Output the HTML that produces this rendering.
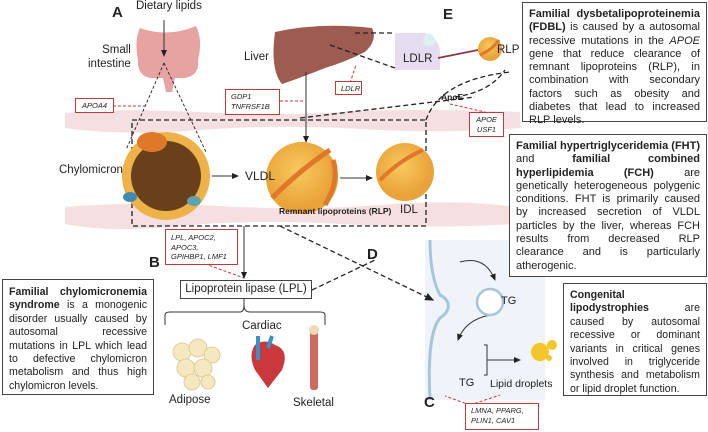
<!DOCTYPE html>
<html><head><meta charset="utf-8"><style>
body{margin:0;background:#fff;}
.t{position:absolute;font-family:"Liberation Sans",sans-serif;color:#222;}
.box{position:absolute;border:1.5px solid #444;background:#fff;font-family:"Liberation Sans",sans-serif;font-size:10.6px;line-height:13.4px;text-align:justify;text-align-last:left;padding:3px 5px;box-sizing:border-box;color:#222;}
.g{position:absolute;border:1.3px solid #c0393b;background:#fff;font-family:"Liberation Sans",sans-serif;font-style:italic;font-size:7.5px;line-height:9.5px;padding:2px 5px;box-sizing:border-box;color:#222;}
</style></head><body>
<div style="position:relative;width:708px;height:432px;overflow:hidden;">
<svg width="708" height="432" style="position:absolute;left:0;top:0">
<defs>
<marker id="ah" markerWidth="8" markerHeight="8" refX="6" refY="4" orient="auto"><path d="M0,1 L7,4 L0,7z" fill="#222"/></marker>
<radialGradient id="yb" cx="45%" cy="40%"><stop offset="0" stop-color="#f7c95e"/><stop offset="1" stop-color="#e9a33a"/></radialGradient>
</defs>
<rect x="425" y="240" width="120" height="160" fill="#eef4f9"/>
<path d="M430,240 C430,260 432,280 440,295 C450,300 452,310 440,318 C430,330 428,360 430,400" stroke="#a9c5dc" stroke-width="3" fill="none"/>
<path d="M65,113 Q120,108 200,112 T340,112 T520,112 L520,128 Q440,134 360,129 T200,130 T65,128Z" fill="#f6dfe0"/>
<path d="M65,207 Q140,201 220,206 T380,205 T515,207 L515,224 Q430,229 340,224 T180,226 T65,224Z" fill="#f6dfe0"/>
<path d="M140,28 Q168,38 196,26 Q203,40 198,60 Q200,75 185,78 L175,78 L172,92 L166,92 L163,78 L150,78 Q137,75 138,60 Q134,40 140,28Z" fill="#e7a3a2"/>
<path d="M275,32 Q320,22 372,28 Q378,40 365,52 Q345,62 325,68 Q300,78 282,84 Q270,70 275,32Z" fill="#9d5b52"/>
<path d="M395,33 L425,33 Q440,40 440,52 L440,70 L395,70Z" fill="#e6dcef"/>
<circle cx="429" cy="40" r="6" fill="#dceff3"/>
<line x1="438" y1="58" x2="478" y2="50" stroke="#8a3b45" stroke-width="1.8"/>
<circle cx="490" cy="49" r="12" fill="url(#yb)"/>
<path d="M480,55 Q492,50 499,40" stroke="#e0782a" stroke-width="3" fill="none"/>
<g stroke="#222" stroke-width="1.3" stroke-dasharray="5,3" fill="none">
<rect x="132" y="120" width="294" height="106"/>
<path d="M426,120 Q440,80 510,72"/>
<path d="M355,33 L395,33"/>
<path d="M330,45 L395,68"/>
<path d="M300,118 L475,97"/>
<path d="M455,97 Q490,92 505,70"/>
<path d="M280,226 L433,300" marker-end="url(#ah)"/>
<path d="M312,290 L375,260"/>
</g>
<g stroke="#222" stroke-width="0.9" stroke-dasharray="3,2" fill="none">
<path d="M164,63 L126,150"/><path d="M164,63 L206,152"/>
</g>
<g stroke="#c0393b" stroke-width="1" stroke-dasharray="3,2" fill="none">
<path d="M113,106 L145,106"/><path d="M280,101 L305,101"/><path d="M350,83 L356,65"/>
<path d="M450,104 L485,112"/><path d="M200,262 L244,278"/><path d="M470,405 L500,395"/><path d="M470,405 L445,396"/>
</g>
<g stroke="#333" stroke-width="1" fill="none">
<line x1="164" y1="20" x2="164" y2="56" marker-end="url(#ah)"/>
<line x1="306" y1="72" x2="306" y2="142" marker-end="url(#ah)"/>
<line x1="212" y1="176" x2="238" y2="176" marker-end="url(#ah)"/>
<line x1="340" y1="178" x2="372" y2="178" marker-end="url(#ah)"/>
<line x1="244" y1="226" x2="244" y2="278" marker-end="url(#ah)"/>
<line x1="244" y1="298" x2="244" y2="308"/>
<path d="M165,325 L165,315 Q165,312 170,312 L240,312 Q244,312 244,305 Q244,312 250,312 L320,312 Q325,312 325,315 L325,325"/>
<path d="M460,262 Q485,255 495,280" marker-end="url(#ah)"/>
<path d="M490,315 Q465,320 458,340" marker-end="url(#ah)"/>
<path d="M484,345 L487,345 L487,375 L484,375 M487,360 L520,360" marker-end="url(#ah)"/>
</g>
<circle cx="166" cy="176" r="44" fill="#eeb24a"/>
<circle cx="166" cy="176" r="35" fill="#6a3f1c"/>
<ellipse cx="152" cy="142" rx="15" ry="10" fill="#e0782a"/>
<ellipse cx="130" cy="197" rx="7" ry="5" fill="#3f8bb0"/>
<ellipse cx="194" cy="201" rx="7" ry="5" fill="#5da3ae"/>
<circle cx="302" cy="178" r="36" fill="url(#yb)"/>
<path d="M272,198 Q300,170 330,150" stroke="#e0782a" stroke-width="5" fill="none"/>
<path d="M333,160 Q340,180 325,205" stroke="#e0782a" stroke-width="5" fill="none"/>
<circle cx="405" cy="172" r="29" fill="url(#yb)"/>
<path d="M380,180 Q400,160 423,150" stroke="#e0782a" stroke-width="4" fill="none"/>
<circle cx="490" cy="302" r="13" fill="#fff" stroke="#a9c5dc" stroke-width="2.5"/>
<circle cx="540" cy="352" r="9" fill="#f3c62c"/><circle cx="552" cy="345" r="5" fill="#f3c62c"/><circle cx="549" cy="358" r="3" fill="#f3c62c"/>
<g fill="#f5e7c0" stroke="#d9c48c" stroke-width="0.8">
<circle cx="182" cy="352" r="9"/><circle cx="198" cy="348" r="9"/><circle cx="212" cy="355" r="8"/><circle cx="186" cy="368" r="9"/><circle cx="203" cy="368" r="9"/><circle cx="192" cy="382" r="8"/><circle cx="208" cy="382" r="7"/>
</g>
<path d="M255,345 Q265,338 275,345 Q290,350 282,370 L268,388 L255,370 Q248,355 255,345Z" fill="#c8383c"/>
<path d="M258,336 L258,360 M272,336 L268,348" stroke="#3a8fc4" stroke-width="4"/>
<rect x="310" y="330" width="8" height="60" rx="3" fill="#d06a5e"/>
<circle cx="314" cy="330" r="5" fill="#f0d8b8"/>
</svg>
<div class="t" style="left:112px;top:4px;font-weight:bold;font-size:15px">A</div>
<div class="t" style="left:136px;top:0px;font-size:11.5px">Dietary lipids</div>
<div class="t" style="left:88px;top:44px;font-size:11.5px;text-align:right;line-height:13.5px">&nbsp;&nbsp;&nbsp;&nbsp;Small<br>intestine</div>
<div class="t" style="left:244px;top:51px;font-size:11.5px">Liver</div>
<div class="t" style="left:59px;top:164px;font-size:11.5px">Chylomicron</div>
<div class="t" style="left:245px;top:169px;font-size:12px">VLDL</div>
<div class="t" style="left:279px;top:206px;font-size:8.5px;font-weight:bold">Remnant lipoproteins (RLP)</div>
<div class="t" style="left:400px;top:204px;font-size:11.5px">IDL</div>
<div class="t" style="left:443px;top:6px;font-weight:bold;font-size:15px">E</div>
<div class="t" style="left:403px;top:53px;font-size:11.5px">LDLR</div>
<div class="t" style="left:497px;top:44px;font-size:11.5px">RLP</div>
<div class="t" style="left:441px;top:92px;font-size:8.5px;font-weight:bold">ApoE</div>
<div class="t" style="left:149px;top:254px;font-weight:bold;font-size:15px">B</div>
<div class="t" style="left:367px;top:246px;font-weight:bold;font-size:15px">D</div>
<div class="t" style="left:424px;top:394px;font-weight:bold;font-size:15px">C</div>
<div class="t" style="left:501px;top:295px;font-size:11px">TG</div>
<div class="t" style="left:459px;top:377px;font-size:11px">TG</div>
<div class="t" style="left:490px;top:378px;font-size:10.5px">Lipid droplets</div>
<div class="t" style="left:242px;top:320px;font-size:11.5px">Cardiac</div>
<div class="t" style="left:169px;top:394px;font-size:11.5px">Adipose</div>
<div class="t" style="left:293px;top:397px;font-size:11.5px">Skeletal</div>
<div style="position:absolute;left:180px;top:280px;width:132px;height:19px;border:1.3px solid #444;box-sizing:border-box;font-family:'Liberation Sans',sans-serif;font-size:11.5px;text-align:center;line-height:17px;color:#222">Lipoprotein lipase (LPL)</div>
<div class="g" style="left:75px;top:98px;width:39px;height:15px;text-align:center">APOA4</div>
<div class="g" style="left:225px;top:89px;width:55px;height:26px">GDP1<br>TNFRSF1B</div>
<div class="g" style="left:335px;top:81px;width:27px;height:14px">LDLR</div>
<div class="g" style="left:469px;top:112px;width:35px;height:25px;text-align:center">APOE<br>USF1</div>
<div class="g" style="left:165px;top:229px;width:73px;height:36px;padding-top:3px">LPL, APOC2,<br>APOC3,<br>GPIHBP1, LMF1</div>
<div class="g" style="left:465px;top:403px;width:74px;height:27px">LMNA, PPARG,<br>PLIN1, CAV1</div>
<div class="box" style="left:522px;top:2px;width:185px;height:120px;padding:5px 6px;font-size:11px;line-height:13.3px"><b>Familial dysbetalipoproteinemia (FDBL)</b> is caused by a autosomal recessive mutations in the <i>APOE</i> gene that reduce clearance of remnant lipoproteins (RLP), in combination with secondary factors such as obesity and diabetes that lead to increased RLP levels.</div>
<div class="box" style="left:509px;top:134px;width:198px;height:143px;padding:5px 6px;font-size:11px;line-height:13.3px"><b>Familial hypertriglyceridemia (FHT)</b> and <b>familial combined hyperlipidemia (FCH)</b> are genetically heterogeneous polygenic conditions. FHT is primarily caused by increased secretion of VLDL particles by the liver, whereas FCH results from decreased RLP clearance and is particularly atherogenic.</div>
<div class="box" style="left:563px;top:283px;width:144px;height:113px;padding:5px 6px"><b>Congenital lipodystrophies</b> are caused by autosomal recessive or dominant variants in critical genes involved in triglyceride synthesis and metabolism or lipid droplet function.</div>
<div class="box" style="left:2px;top:279px;width:152px;height:116px;padding:6px 6px"><b>Familial chylomicronemia syndrome</b> is a monogenic disorder usually caused by autosomal recessive mutations in LPL which lead to defective chylomicron metabolism and thus high chylomicron levels.</div>
</div>
</body></html>
